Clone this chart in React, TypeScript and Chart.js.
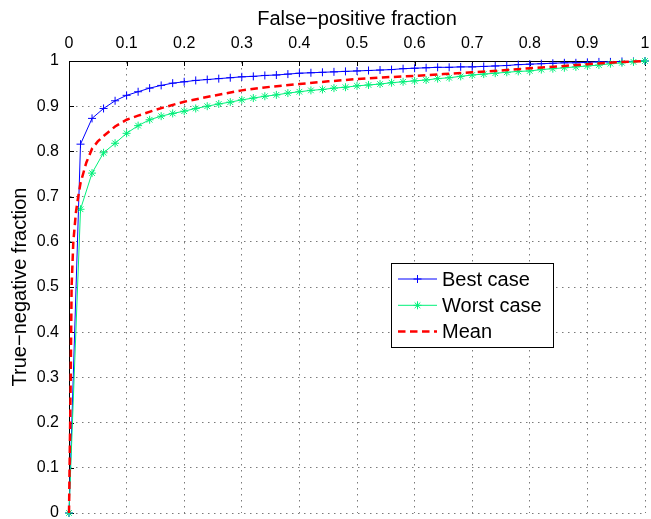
import React, { useEffect, useRef } from 'react';
import { Chart, registerables } from 'chart.js';
import { drawPoint } from 'chart.js/helpers';

Chart.register(...registerables);

// False-positive fraction sampled for the two marked curves
const fprSteps = [
  0, 0.02, 0.04, 0.06, 0.08, 0.1, 0.12, 0.14, 0.16, 0.18,
  0.2, 0.22, 0.24, 0.26, 0.28, 0.3, 0.32, 0.34, 0.36, 0.38,
  0.4, 0.42, 0.44, 0.46, 0.48, 0.5, 0.52, 0.54, 0.56, 0.58,
  0.6, 0.62, 0.64, 0.66, 0.68, 0.7, 0.72, 0.74, 0.76, 0.78,
  0.8, 0.82, 0.84, 0.86, 0.88, 0.9, 0.92, 0.94, 0.96, 0.98, 1,
];

const bestCase = [
  0, 0.816, 0.873, 0.895, 0.912, 0.924, 0.932, 0.94, 0.946, 0.951,
  0.954, 0.957, 0.959, 0.961, 0.963, 0.965, 0.966, 0.968, 0.969, 0.971,
  0.973, 0.974, 0.975, 0.976, 0.977, 0.978, 0.979, 0.98, 0.981, 0.983,
  0.984, 0.985, 0.986, 0.986, 0.987, 0.987, 0.988, 0.989, 0.99, 0.992,
  0.993, 0.994, 0.995, 0.996, 0.996, 0.997, 0.998, 0.998, 0.999, 0.999, 1,
];

const worstCase = [
  0, 0.672, 0.752, 0.797, 0.818, 0.84, 0.857, 0.87, 0.878, 0.884,
  0.889, 0.895, 0.9, 0.905, 0.909, 0.914, 0.918, 0.922, 0.925, 0.929,
  0.932, 0.935, 0.937, 0.94, 0.942, 0.945, 0.947, 0.949, 0.952, 0.954,
  0.956, 0.958, 0.961, 0.963, 0.966, 0.969, 0.971, 0.973, 0.975, 0.977,
  0.978, 0.981, 0.983, 0.985, 0.987, 0.989, 0.991, 0.994, 0.996, 0.998, 1,
];

// Mean curve (no markers), sampled more finely near the origin
const fprMean = [
  0, 0.001, 0.003, 0.0045, 0.0075, 0.012, 0.016, 0.02, 0.03, 0.04,
  0.05, 0.06, 0.08, 0.1, 0.12, 0.15, 0.2, 0.25, 0.3, 0.35,
  0.4, 0.45, 0.5, 0.55, 0.6, 0.65, 0.7, 0.75, 0.8, 0.85, 0.9, 0.95, 1,
];
const meanCase = [
  0, 0.1, 0.3, 0.5, 0.6, 0.665, 0.7, 0.73, 0.775, 0.806,
  0.822, 0.834, 0.855, 0.87, 0.879, 0.892, 0.91, 0.923, 0.935, 0.943,
  0.949, 0.955, 0.96, 0.964, 0.967, 0.971, 0.975, 0.979, 0.984, 0.988, 0.993, 0.997, 1,
];

const axisTicks = [0, 0.1, 0.2, 0.3, 0.4, 0.5, 0.6, 0.7, 0.8, 0.9, 1];
const tickLabels = ['0', '0.1', '0.2', '0.3', '0.4', '0.5', '0.6', '0.7', '0.8', '0.9', '1'];
const xTitle = 'False\u2212positive fraction';
const yTitle = 'True\u2212negative fraction';
const seriesNames = ['Best case', 'Worst case', 'Mean'];

const FONT = "'Liberation Sans', Arial, Helvetica, sans-serif";

const toPoints = (xs: number[], ys: number[]) => xs.map((x, i) => ({ x, y: ys[i] }));

const labelFor = (v: number) => {
  const idx = axisTicks.findIndex((t) => Math.abs(t - v) < 1e-6);
  return idx >= 0 ? tickLabels[idx] : '';
};

const innerTicksPlugin = {
  id: 'innerTicks',
  beforeDatasetsDraw(chart: any) {
    const { ctx, chartArea: a, scales } = chart;
    const L = 5;
    ctx.save();
    ctx.strokeStyle = '#000';
    ctx.lineWidth = 1;
    ctx.beginPath();
    for (const v of axisTicks) {
      const x = Math.round(scales.x.getPixelForValue(v)) + 0.5;
      ctx.moveTo(x, a.top);
      ctx.lineTo(x, a.top + L);
      const y = Math.round(scales.y.getPixelForValue(v)) + 0.5;
      ctx.moveTo(a.left, y);
      ctx.lineTo(a.left + L, y);
    }
    ctx.stroke();
    ctx.restore();
  },
};

const boxLegendPlugin = {
  id: 'boxLegend',
  afterDraw(chart: any, _args: any, opts: any) {
    const { ctx } = chart;
    const { x, y, w, h, firstRow, rowH, sampleLeft, sampleRight, textLeft, fontSize } = opts;
    ctx.save();
    ctx.fillStyle = '#fff';
    ctx.fillRect(x, y, w, h);
    ctx.strokeStyle = '#000';
    ctx.lineWidth = 1;
    ctx.setLineDash([]);
    ctx.strokeRect(x + 0.5, y + 0.5, w, h);
    chart.data.datasets.forEach((ds: any, i: number) => {
      const cy = y + firstRow + i * rowH;
      ctx.save();
      ctx.strokeStyle = ds.borderColor;
      ctx.lineWidth = ds.borderWidth;
      ctx.setLineDash(ds.borderDash || []);
      ctx.beginPath();
      ctx.moveTo(x + sampleLeft, cy);
      ctx.lineTo(x + sampleRight, cy);
      ctx.stroke();
      ctx.setLineDash([]);
      if (ds.pointRadius > 0) {
        ctx.strokeStyle = ds.pointBorderColor;
        ctx.fillStyle = ds.pointBorderColor;
        ctx.lineWidth = ds.pointBorderWidth;
        drawPoint(ctx, { pointStyle: ds.pointStyle, radius: ds.pointRadius, rotation: 0, borderWidth: ds.pointBorderWidth } as any, x + (sampleLeft + sampleRight) / 2, cy);
      }
      ctx.restore();
      ctx.fillStyle = '#000';
      ctx.font = `${fontSize}px ${FONT}`;
      ctx.textBaseline = 'middle';
      ctx.textAlign = 'left';
      ctx.fillText(ds.label, x + textLeft, cy + 1);
    });
    ctx.restore();
  },
};

export default function App() {
  const canvasRef = useRef<HTMLCanvasElement | null>(null);

  useEffect(() => {
    document.body.style.margin = '0';
    const canvas = canvasRef.current;
    if (!canvas) return;

    const blue = '#0000ff';
    const green = '#00f07a';
    const red = '#ff0000';

    const chart = new Chart(canvas, {
      type: 'scatter',
      data: {
        datasets: [
          {
            label: seriesNames[0],
            data: toPoints(fprSteps, bestCase),
            showLine: true,
            borderColor: blue,
            backgroundColor: blue,
            borderWidth: 1,
            pointStyle: 'cross',
            pointRadius: 4,
            pointBorderColor: blue,
            pointBorderWidth: 1,
            tension: 0,
            clip: false,
            order: 2,
          } as any,
          {
            label: seriesNames[1],
            data: toPoints(fprSteps, worstCase),
            showLine: true,
            borderColor: green,
            backgroundColor: green,
            borderWidth: 1,
            pointStyle: 'star',
            pointRadius: 4,
            pointBorderColor: green,
            pointBorderWidth: 1,
            tension: 0,
            clip: false,
            order: 1,
          } as any,
          {
            label: seriesNames[2],
            data: toPoints(fprMean, meanCase),
            showLine: true,
            borderColor: red,
            backgroundColor: red,
            borderWidth: 2.5,
            borderDash: [7.5, 4.5],
            pointRadius: 0,
            tension: 0,
            clip: false,
            order: 0,
          } as any,
        ],
      },
      options: {
        animation: false,
        responsive: false,
        maintainAspectRatio: false,
        devicePixelRatio: 1,
        layout: { padding: { left: 0, top: 0, right: 6, bottom: 6 } },
        plugins: {
          legend: { display: false },
          tooltip: { enabled: false },
          boxLegend: {
            x: 391, y: 263, w: 162, h: 84,
            firstRow: 16, rowH: 26.3,
            sampleLeft: 7, sampleRight: 46, textLeft: 51,
            fontSize: 20,
          },
        } as any,
        scales: {
          x: {
            type: 'linear',
            position: 'top',
            min: 0,
            max: 1,
            afterBuildTicks: (scale: any) => {
              scale.ticks = axisTicks.map((v) => ({ value: v }));
            },
            afterFit: (scale: any) => {
              scale.height = 61;
              scale.paddingLeft = 0;
              scale.paddingRight = 0;
            },
            ticks: {
              callback: (v: any) => labelFor(Number(v)),
              color: '#000',
              font: { family: FONT, size: 16 },
              padding: 8,
              maxRotation: 0,
              autoSkip: false,
            },
            grid: { color: '#7a7a7a', lineWidth: 1, drawTicks: false },
            border: { display: true, color: '#000', width: 1, dash: [1.5, 4.5] },
            title: {
              display: true,
              text: xTitle,
              color: '#000',
              font: { family: FONT, size: 20 },
              padding: { top: 7, bottom: 0 },
            },
          },
          y: {
            type: 'linear',
            position: 'left',
            min: 0,
            max: 1,
            afterBuildTicks: (scale: any) => {
              scale.ticks = axisTicks.map((v) => ({ value: v }));
            },
            afterFit: (scale: any) => {
              scale.width = 69;
              scale.paddingTop = 0;
              scale.paddingBottom = 0;
            },
            ticks: {
              callback: (v: any) => labelFor(Number(v)),
              color: '#000',
              font: { family: FONT, size: 16 },
              padding: 10,
              autoSkip: false,
            },
            grid: { color: '#7a7a7a', lineWidth: 1, drawTicks: false },
            border: { display: true, color: '#000', width: 1, dash: [1.5, 4.5] },
            title: {
              display: true,
              text: yTitle,
              color: '#000',
              font: { family: FONT, size: 20 },
              padding: { top: 8, bottom: 0 },
            },
          },
        },
      } as any,
      plugins: [innerTicksPlugin, boxLegendPlugin],
    });

    return () => chart.destroy();
  }, []);

  return (
    <div style={{ width: 651, height: 519, position: 'relative' }}>
      <canvas ref={canvasRef} width={651} height={519} style={{ display: 'block' }} />
    </div>
  );
}
